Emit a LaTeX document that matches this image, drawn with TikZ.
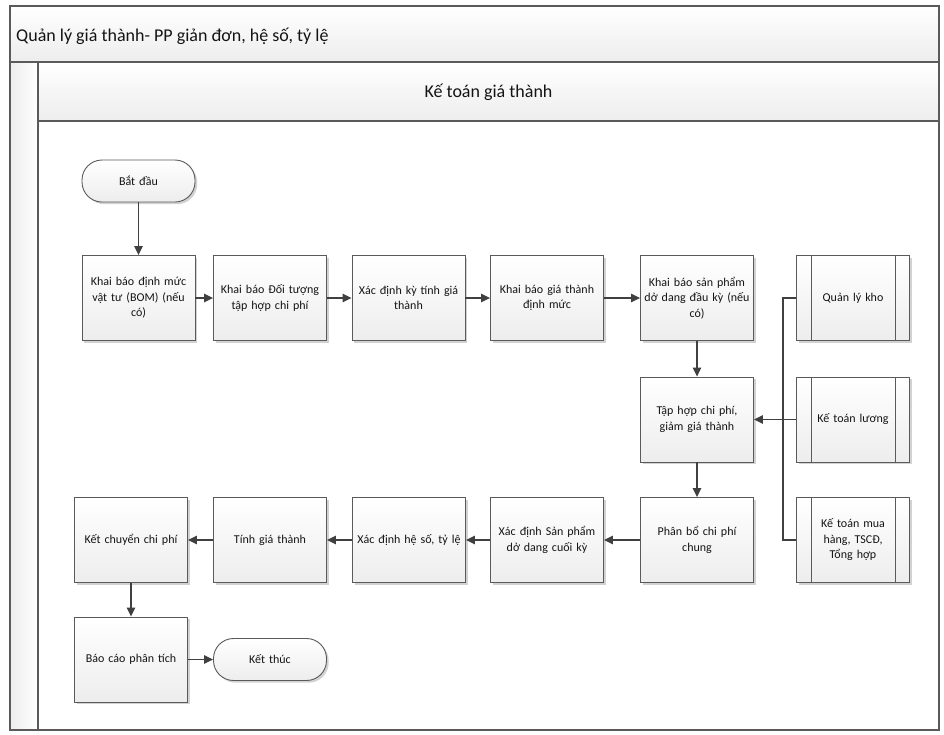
\documentclass[tikz,border=0pt]{standalone}
\usepackage{fontspec}
\setmainfont{Carlito}
\usetikzlibrary{arrows.meta,shadows}
\definecolor{linec}{HTML}{5A5A5A}
\definecolor{arrc}{HTML}{404040}
\definecolor{txtc}{HTML}{141414}
\definecolor{bandlo}{HTML}{EDEDED}
\tikzset{
 procbox/.style={draw=linec, line width=0.9pt, top color=white, bottom color=bandlo,
   minimum width=113pt, minimum height=85pt, text width=110pt, align=center,
   font=\fontsize{12}{15.5}\selectfont, text=txtc, inner sep=0pt,
   drop shadow={shadow xshift=2.2pt,shadow yshift=-2.2pt,opacity=0.35,fill=gray}},
 termbox/.style={procbox, minimum height=42pt, rounded corners=20pt},
 subbox/.style={procbox, text width=80pt, path picture={
   \draw[linec,line width=0.9pt] ([xshift=15pt]path picture bounding box.north west) -- ([xshift=15pt]path picture bounding box.south west);
   \draw[linec,line width=0.9pt] ([xshift=-14pt]path picture bounding box.north east) -- ([xshift=-14pt]path picture bounding box.south east);}},
 flow/.style={draw=arrc, line width=1.3pt, -{Triangle[length=9pt,width=8.5pt]}},
 plain/.style={draw=arrc, line width=1.3pt},
 frameline/.style={draw=linec, line width=1.1pt},
}
\begin{document}
\begin{tikzpicture}[x=1pt,y=-1pt]
\useasboundingbox (0,0) rectangle (944,734);
% pool and lane
\fill[white] (10,6) rectangle (939,730);
\shade[top color=white, bottom color=bandlo] (10,6) rectangle (939,62);
\shade[left color=bandlo, right color=white] (10,62) rectangle (38,730);
\shade[top color=white, bottom color=bandlo] (38,62) rectangle (939,121);
\draw[frameline] (10,6) rectangle (939,730);
\draw[frameline] (10,62) -- (939,62);
\draw[frameline] (38,62) -- (38,730);
\draw[frameline] (38,121) -- (939,121);
\node[anchor=west, font=\fontsize{18}{21}\selectfont, text=txtc, inner sep=0pt] (title) at (16,36) {Quản lý giá thành- PP giản đơn, hệ số, tỷ lệ};
\node[font=\fontsize{18}{21}\selectfont, text=txtc, inner sep=0pt] (lane) at (488.5,92) {Kế toán giá thành};
% nodes
\node[termbox] (start) at (138.5,181) {Bắt đầu};
\node[procbox] (b1) at (138.5,298) {Khai báo định mức\\vật tư (BOM) (nếu\\có)};
\node[procbox] (b2) at (270,298) {Khai báo Đối tượng\\tập hợp chi phí};
\node[procbox] (b3) at (408.5,298) {Xác định kỳ tính giá\\thành};
\node[procbox] (b4) at (547,298) {Khai báo giá thành\\định mức};
\node[procbox] (b5) at (697,298) {Khai báo sản phẩm\\dở dang đầu kỳ (nếu\\có)};
\node[procbox] (b6) at (697,419.5) {Tập hợp chi phí,\\giảm giá thành};
\node[procbox] (b7) at (697,540) {Phân bổ chi phí\\chung};
\node[procbox] (b8) at (547,540) {Xác định Sản phẩm\\dở dang cuối kỳ};
\node[procbox] (b9) at (409,540) {Xác định hệ số, tỷ lệ};
\node[procbox] (b10) at (270,540) {Tính giá thành};
\node[procbox] (b11) at (131,540) {Kết chuyển chi phí};
\node[procbox] (b12) at (131,659.5) {Báo cáo phân tích};
\node[termbox] (end) at (270,659.5) {Kết thúc};
\node[subbox] (qlk) at (853,298) {Quản lý kho};
\node[subbox] (ktl) at (853,419.5) {Kế toán lương};
\node[subbox] (ktm) at (853,540) {Kế toán mua\\hàng, TSCĐ,\\Tổng hợp};
\coordinate (bus) at (783,419.5);
% connectors
\draw[flow] (start) -- (b1);
\draw[flow] (b1) -- (b2);
\draw[flow] (b2) -- (b3);
\draw[flow] (b3) -- (b4);
\draw[flow] (b4) -- (b5);
\draw[flow] (b5) -- (b6);
\draw[flow] (b6) -- (b7);
\draw[flow] (b7) -- (b8);
\draw[flow] (b8) -- (b9);
\draw[flow] (b9) -- (b10);
\draw[flow] (b10) -- (b11);
\draw[flow] (b11) -- (b12);
\draw[flow] (b12) -- (end);
\draw[plain] (qlk.west) -| (bus);
\draw[plain] (ktm.west) -| (bus);
\draw[flow] (ktl.west) -- (b6.east);
\end{tikzpicture}
\end{document}
